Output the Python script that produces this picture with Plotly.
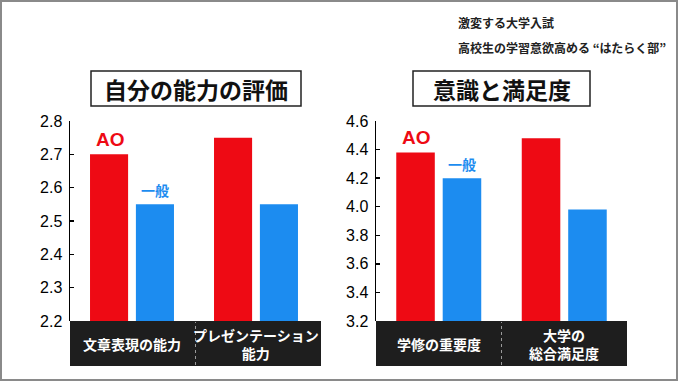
import plotly.graph_objects as go

# ---- data ----
cats_left = ["文章表現の能力", "プレゼンテーション<br>能力"]
ao_left = [2.70, 2.75]
gen_left = [2.55, 2.55]

cats_right = ["学修の重要度", "大学の<br>総合満足度"]
ao_right = [4.38, 4.48]
gen_right = [4.20, 3.98]

title_left = "自分の能力の評価"
title_right = "意識と満足度"
headline = ["激変する大学入試", "高校生の学習意欲高める “はたらく部”"]
series_names = ["AO", "一般"]

RED = "#ee0a14"
BLUE = "#1c8cf0"
W, H = 680, 382
JP = "Noto Sans CJK JP"


def px(x):
    return x / W


def py(y):
    return 1 - y / H


fig = go.Figure()
fig.add_trace(go.Bar(x=cats_left, y=ao_left, marker_color=RED, xaxis="x", yaxis="y", name=series_names[0]))
fig.add_trace(go.Bar(x=cats_left, y=gen_left, marker_color=BLUE, xaxis="x", yaxis="y", name=series_names[1]))
fig.add_trace(go.Bar(x=cats_right, y=ao_right, marker_color=RED, xaxis="x2", yaxis="y2", name=series_names[0]))
fig.add_trace(go.Bar(x=cats_right, y=gen_right, marker_color=BLUE, xaxis="x2", yaxis="y2", name=series_names[1]))
fig.update_traces(marker_line_width=0, hoverinfo="skip")

ydom = [py(321), py(121)]
yaxis_common = dict(
    showgrid=False, zeroline=False, showline=True, linecolor="black", linewidth=1.5,
    ticks="inside", ticklen=4, tickcolor="black", tickwidth=1.5,
    tickfont=dict(family="Liberation Sans", size=16, color="black"),
    ticklabelstandoff=3, automargin=False,
)
xaxis_common = dict(showgrid=False, zeroline=False, showline=False, showticklabels=False, ticks="",
                    automargin=False)

fig.update_layout(
    width=W, height=H,
    margin=dict(l=0, r=0, t=0, b=0, pad=0, autoexpand=False),
    paper_bgcolor="white", plot_bgcolor="white",
    showlegend=False,
    barmode="group", bargap=0.26, bargroupgap=0.17,
    xaxis=dict(domain=[px(70), px(321)], anchor="y", **xaxis_common),
    yaxis=dict(domain=ydom, anchor="x", range=[2.2, 2.8], dtick=0.1, tickformat=".1f", **yaxis_common),
    xaxis2=dict(domain=[px(376), px(627)], anchor="y2", **xaxis_common),
    yaxis2=dict(domain=ydom, anchor="x2", range=[3.2, 4.6], dtick=0.2, tickformat=".1f", **yaxis_common),
)

shapes = []
annotations = []

# outer frame
shapes.append(dict(type="rect", xref="paper", yref="paper", x0=px(1), x1=px(677), y0=py(380), y1=py(1),
                   line=dict(color="#8a8a8a", width=2), fillcolor="rgba(0,0,0,0)", layer="below"))

# category bands and labels
for xa, cats in (("x", cats_left), ("x2", cats_right)):
    shapes.append(dict(type="rect", xref=f"{xa} domain", yref="paper", x0=0, x1=1, y0=py(366), y1=py(321),
                       fillcolor="#1e1e1e", line=dict(width=0), layer="above"))
    shapes.append(dict(type="line", xref=f"{xa} domain", yref="paper", x0=0.5, x1=0.5, y0=py(365), y1=py(322),
                       line=dict(color="#9a9a9a", width=1, dash="dot"), layer="above"))
    for c in cats:
        annotations.append(dict(x=c, y=py(344), xref=xa, yref="paper", text=c, showarrow=False,
                                font=dict(family=JP, size=14, color="white", weight="bold"),
                                xanchor="center", yanchor="middle", align="center"))

# series labels above first group
for xa, ya, cats, ao, gen in (("x", "y", cats_left, ao_left, gen_left), ("x2", "y2", cats_right, ao_right, gen_right)):
    annotations.append(dict(x=cats[0], y=ao[0], xref=xa, yref=ya, text=series_names[0], showarrow=False,
                            xanchor="center", yanchor="bottom", xshift=-22, yshift=2,
                            font=dict(family="Liberation Sans", size=19, color=RED, weight="bold")))
    annotations.append(dict(x=cats[0], y=gen[0], xref=xa, yref=ya, text=series_names[1], showarrow=False,
                            xanchor="center", yanchor="bottom", xshift=23, yshift=2,
                            font=dict(family=JP, size=14, color=BLUE, weight="bold")))

# title boxes
for (x0, x1, y0, y1, t) in ((91, 301, 71, 106, title_left), (413, 590, 71, 106, title_right)):
    shapes.append(dict(type="rect", xref="paper", yref="paper", x0=px(x0), x1=px(x1), y0=py(y1), y1=py(y0),
                       line=dict(color="#222", width=1.5), fillcolor="white"))
    annotations.append(dict(x=px((x0 + x1) / 2), y=py((y0 + y1) / 2), xref="paper", yref="paper", text=t,
                            showarrow=False, xanchor="center", yanchor="middle",
                            font=dict(family=JP, size=23, color="#111", weight="bold")))

# headline
for t, yc in zip(headline, (23, 47)):
    annotations.append(dict(x=px(456), y=py(yc), xref="paper", yref="paper", text=t, showarrow=False,
                            xanchor="left", yanchor="middle",
                            font=dict(family=JP, size=12, color="#222", weight="bold")))

fig.update_layout(shapes=shapes, annotations=annotations)
fig.write_html("out.html", config={"displayModeBar": False, "staticPlot": True},
               post_script="document.body.style.margin='0';document.body.style.overflow='hidden';")
